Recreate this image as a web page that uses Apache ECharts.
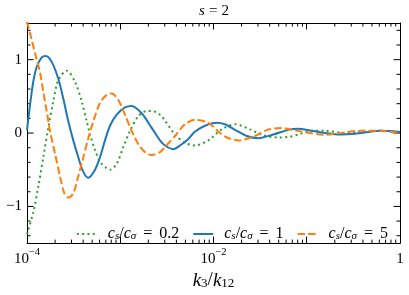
<!DOCTYPE html>
<html>
<head>
<meta charset="utf-8">
<script src="https://cdn.jsdelivr.net/npm/echarts@6/dist/echarts.min.js"></script>
<style>html,body{margin:0;padding:0;background:#fff;}#c{width:409px;height:295px;}</style>
</head>
<body>
<div id="c"></div>
<script>
// k3/k12 sample points and values
const kGreen = [1.000e-4, 1.168e-4, 1.322e-4, 1.495e-4, 1.692e-4, 1.914e-4, 2.166e-4, 2.665e-4, 3.270e-4, 3.860e-4, 4.367e-4, 4.740e-4, 5.361e-4, 6.064e-4, 7.156e-4, 7.765e-4, 9.160e-4, 1.078e-3, 1.273e-3, 1.561e-3, 1.921e-3, 2.174e-3, 2.669e-3, 3.019e-3, 3.864e-3, 4.943e-3, 6.339e-3, 8.790e-3, 1.225e-2, 1.702e-2, 2.460e-2, 3.420e-2, 4.955e-2, 6.607e-2, 8.110e-2, 0.1130, 0.1570, 0.2570, 0.3724, 0.6109, 1];
const yGreen = [-1.38, -1.08, -0.73, -0.33, 0.07, 0.43, 0.72, 0.85, 0.70, 0.43, 0.16, -0.02, -0.23, -0.39, -0.48, -0.50, -0.42, -0.19, 0.03, 0.23, 0.30, 0.30, 0.25, 0.17, -0.02, -0.13, -0.17, -0.10, 0.05, 0.12, 0.05, -0.03, -0.06, -0.05, -0.02, 0.03, 0.03, 0.0, 0.02, 0.03, 0.01];

const kBlue = [1.000e-4, 1.077e-4, 1.168e-4, 1.271e-4, 1.438e-4, 1.586e-4, 1.840e-4, 2.166e-4, 2.450e-4, 2.773e-4, 3.136e-4, 3.549e-4, 4.016e-4, 4.544e-4, 5.361e-4, 6.064e-4, 6.862e-4, 7.765e-4, 9.160e-4, 1.124e-3, 1.327e-3, 1.698e-3, 2.174e-3, 2.669e-3, 3.019e-3, 3.707e-3, 4.372e-3, 5.370e-3, 6.339e-3, 8.110e-3, 1.081e-2, 1.327e-2, 1.774e-2, 2.270e-2, 3.020e-2, 4.375e-2, 6.607e-2, 8.110e-2, 0.1130, 0.1570, 0.2275, 0.3289, 0.6109, 1];
const yBlue = [0.04, 0.38, 0.70, 0.90, 1.03, 1.05, 0.97, 0.74, 0.47, 0.16, -0.10, -0.33, -0.53, -0.61, -0.50, -0.33, -0.10, 0.10, 0.25, 0.35, 0.37, 0.27, 0.07, -0.10, -0.17, -0.22, -0.17, -0.08, 0.02, 0.10, 0.14, 0.12, 0.03, -0.04, -0.07, -0.02, 0.05, 0.06, 0.03, 0.0, -0.02, -0.01, 0.03, 0.015];

const kOrange = [1.000e-4, 1.123e-4, 1.271e-4, 1.378e-4, 1.495e-4, 1.626e-4, 1.764e-4, 1.996e-4, 2.259e-4, 2.512e-4, 2.773e-4, 3.136e-4, 3.549e-4, 4.016e-4, 4.544e-4, 5.141e-4, 6.064e-4, 7.156e-4, 8.097e-4, 9.530e-4, 1.124e-3, 1.327e-3, 1.561e-3, 1.842e-3, 2.174e-3, 2.669e-3, 3.019e-3, 3.864e-3, 4.943e-3, 6.339e-3, 8.790e-3, 1.175e-2, 1.387e-2, 1.845e-2, 2.673e-2, 3.724e-2, 5.383e-2, 6.607e-2, 8.831e-2, 0.1570, 0.2570, 0.3724, 0.6109, 1];
const yOrange = [1.52, 1.27, 1.00, 0.83, 0.56, 0.30, 0.03, -0.28, -0.59, -0.82, -0.88, -0.82, -0.59, -0.33, -0.07, 0.16, 0.41, 0.52, 0.54, 0.45, 0.25, 0.03, -0.15, -0.26, -0.30, -0.26, -0.19, -0.04, 0.12, 0.18, 0.14, 0.0, -0.06, -0.10, -0.05, 0.04, 0.07, 0.05, 0.02, -0.025, 0.01, 0.03, 0.03, 0.0];

const seriesNames = ['green', 'blue', 'orange'];
const legendValues = ['0.2', '1', '5'];
const yLabelValues = [-1, 0, 1];
const yMinorTicks = [-1.4, -1.2, -0.8, -0.6, -0.4, -0.2, 0.2, 0.4, 0.6, 0.8, 1.2, 1.4];
const xDecades = [-4, -3, -2, -1];
const xMinorMultipliers = [2, 3, 4, 5, 6, 7, 8, 9];

const FONT = '"Liberation Serif", "DejaVu Serif", serif';
const pairs = (k, y) => k.map((v, i) => [v, y[i]]);

const xMinor = [];
xDecades.forEach(d => xMinorMultipliers.forEach(m => xMinor.push([m * Math.pow(10, d), 0])));
const yTicks = yMinorTicks.map(v => [1e-3, v, 3.5]).concat(yLabelValues.map(v => [1e-3, v, 6.5]));

const chart = echarts.init(document.getElementById('c'), null, {renderer: 'canvas'});

const legendRich = {
  n: {fontFamily: FONT, fontSize: 16, color: '#000', fontWeight: 'normal'},
  i: {fontFamily: FONT, fontSize: 16, fontStyle: 'italic', color: '#000'},
  sub: {fontFamily: FONT, fontSize: 11, fontStyle: 'italic', color: '#000', verticalAlign: 'bottom', lineHeight: 13},
  sp: {fontFamily: FONT, fontSize: 16, width: 7},
  pad: {fontFamily: FONT, fontSize: 16, width: 6}
};

const option = {
  animation: false,
  backgroundColor: '#fff',
  graphic: [{
    type: 'text', x: 214, y: 11, silent: true,
    style: {
      text: '{i|s}{sp| }{n|=}{sp| }{n|2}',
      align: 'center', verticalAlign: 'middle',
      rich: {
        i: {fontFamily: FONT, fontSize: 15, fontStyle: 'italic', fill: '#000'},
        n: {fontFamily: FONT, fontSize: 15, fill: '#000'},
        sp: {fontFamily: FONT, fontSize: 15, width: 4}
      }
    }
  }],
  grid: {left: 27, right: 9, top: 23, bottom: 47, containLabel: false},
  legend: {
    data: seriesNames.slice(),
    right: 16, top: 221,
    itemWidth: 20, itemHeight: 14, itemGap: 13,
    itemStyle: {opacity: 0, borderWidth: 0},
    formatter: name => '{pad| }{i|c}{sub|s}{n|/}{i|c}{sub|σ}{sp| }{n|=}{sp| }{n|' + legendValues[seriesNames.indexOf(name)] + '}',
    textStyle: {rich: legendRich}
  },
  xAxis: [{
    type: 'log', logBase: 10, min: 1e-4, max: 1, position: 'bottom',
    axisLine: {show: true, onZero: false, lineStyle: {color: '#000', width: 1}},
    axisTick: {show: true, inside: true, length: 6.5, lineStyle: {color: '#000'}},
    splitLine: {show: false},
    axisLabel: {
      margin: 4,
      formatter: v => {
        const e = Math.round(Math.log10(v));
        if (e === -4) return '{b|10}{s|−4}';
        if (e === -2) return '{b|10}{s|−2}';
        if (e === 0) return '{b|1}';
        return '';
      },
      rich: {
        b: {fontFamily: FONT, fontSize: 15, color: '#000', lineHeight: 19, verticalAlign: 'bottom'},
        s: {fontFamily: FONT, fontSize: 10.5, color: '#000', verticalAlign: 'top', lineHeight: 12}
      }
    },
    name: '{i|k}{sub|3}{n|/}{i|k}{sub|12}',
    nameLocation: 'middle', nameGap: 27,
    nameTextStyle: {rich: {
      n: {fontFamily: FONT, fontSize: 19, color: '#000'},
      i: {fontFamily: FONT, fontSize: 19, fontStyle: 'italic', color: '#000'},
      sub: {fontFamily: FONT, fontSize: 13, color: '#000', verticalAlign: 'bottom', lineHeight: 15}
    }}
  }, {
    type: 'log', logBase: 10, min: 1e-4, max: 1, position: 'top',
    axisLine: {show: true, onZero: false, lineStyle: {color: '#000', width: 1}},
    axisTick: {show: true, inside: true, length: 6.5, lineStyle: {color: '#000'}},
    axisLabel: {show: false}, splitLine: {show: false}
  }],
  yAxis: [{
    type: 'value', min: -1.5, max: 1.5, interval: 0.5, position: 'left',
    axisLine: {show: true, onZero: false, lineStyle: {color: '#000', width: 1}},
    axisTick: {show: false}, splitLine: {show: false},
    axisLabel: {
      margin: 5, fontFamily: FONT, fontSize: 15, color: '#000',
      formatter: v => (yLabelValues.indexOf(v) >= 0 ? (v < 0 ? '−' + Math.abs(v) : String(v)) : '')
    }
  }, {
    type: 'value', min: -1.5, max: 1.5, interval: 0.5, position: 'right',
    axisLine: {show: true, onZero: false, lineStyle: {color: '#000', width: 1}},
    axisTick: {show: false}, axisLabel: {show: false}, splitLine: {show: false}
  }],
  series: [{
    name: 'green', type: 'line', data: pairs(kGreen, yGreen), smooth: 0.3,
    showSymbol: false, symbol: 'none', clip: true, color: '#2ca02c',
    lineStyle: {color: '#2ca02c', width: 2, type: [2, 3.3], cap: 'butt'}
  }, {
    name: 'blue', type: 'line', data: pairs(kBlue, yBlue), smooth: 0.3,
    showSymbol: false, symbol: 'none', clip: true, color: '#1f77b4',
    lineStyle: {color: '#1f77b4', width: 2, type: 'solid'}
  }, {
    name: 'orange', type: 'line', data: pairs(kOrange, yOrange), smooth: 0.3,
    showSymbol: false, symbol: 'none', clip: true, color: '#ff7f0e',
    lineStyle: {color: '#ff7f0e', width: 2, type: [7.4, 3.2], cap: 'butt'}
  }, {
    name: 'xminor', type: 'custom', silent: true, clip: false,
    data: xMinor, encode: {x: 0, y: 1},
    renderItem: (params, api) => {
      const cs = params.coordSys;
      const x = api.coord([api.value(0), 0])[0];
      const st = {stroke: '#000', lineWidth: 1};
      return {type: 'group', children: [
        {type: 'line', shape: {x1: x, y1: cs.y + cs.height, x2: x, y2: cs.y + cs.height - 3.5}, style: st},
        {type: 'line', shape: {x1: x, y1: cs.y, x2: x, y2: cs.y + 3.5}, style: st}
      ]};
    }
  }, {
    name: 'yticks', type: 'custom', silent: true, clip: false,
    data: yTicks, encode: {x: 0, y: 1},
    renderItem: (params, api) => {
      const cs = params.coordSys;
      const y = api.coord([1e-3, api.value(1)])[1];
      const len = api.value(2);
      const st = {stroke: '#000', lineWidth: 1};
      return {type: 'group', children: [
        {type: 'line', shape: {x1: cs.x, y1: y, x2: cs.x + len, y2: y}, style: st},
        {type: 'line', shape: {x1: cs.x + cs.width, y1: y, x2: cs.x + cs.width - len, y2: y}, style: st}
      ]};
    }
  }]
};
chart.setOption(option);
</script>
</body>
</html>
